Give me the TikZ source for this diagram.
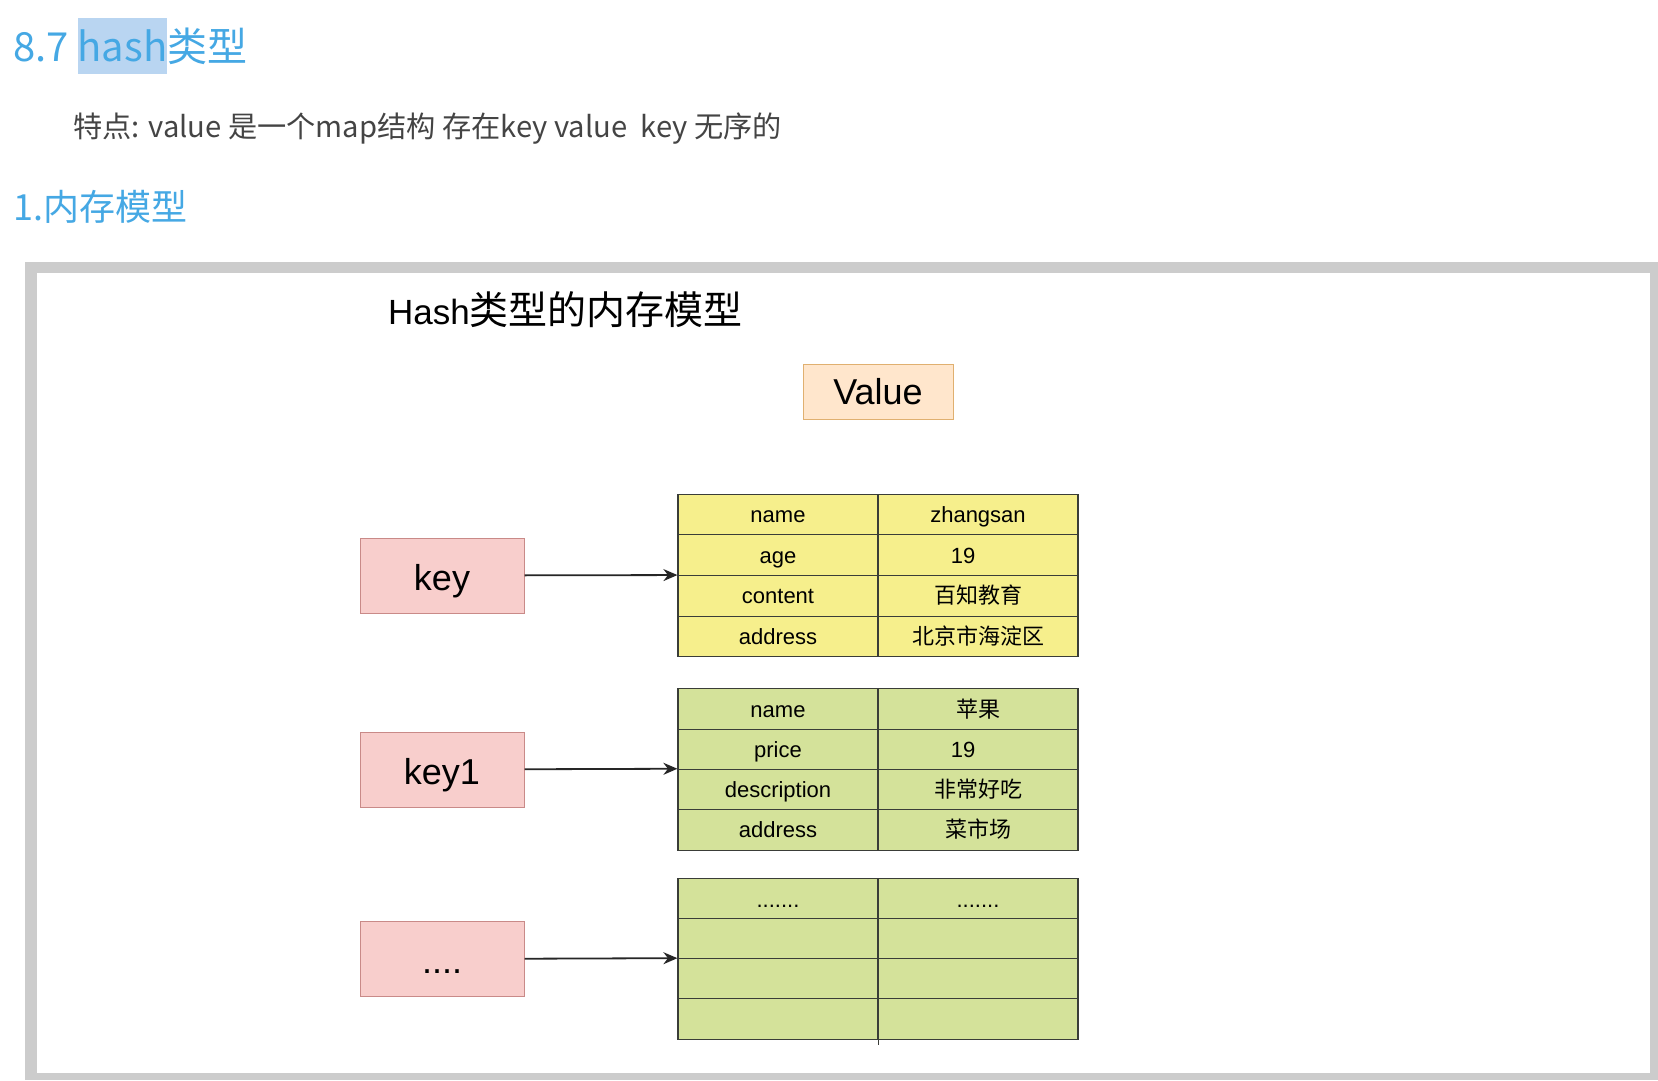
\documentclass[tikz,border=0pt]{standalone}
\usepackage{fontspec}
\setmainfont{Liberation Sans}
\newfontfamily\cjk{Noto Sans CJK SC}
\usetikzlibrary{arrows.meta}
\setlength{\fboxsep}{0pt}
\definecolor{heading}{HTML}{45A8E4}
\definecolor{mark}{HTML}{B9D5F1}
\definecolor{note}{HTML}{444444}
\definecolor{frame}{HTML}{CCCCCC}
\definecolor{keyfill}{HTML}{F8CECC}
\definecolor{keyline}{HTML}{C98A88}
\definecolor{valfill}{HTML}{FFE6CC}
\definecolor{valline}{HTML}{E0B070}
\definecolor{tblyellow}{HTML}{F6EF8C}
\definecolor{tblgreen}{HTML}{D4E29A}
\definecolor{tblline}{HTML}{3A3D38}

\begin{document}
\begin{tikzpicture}[x=1pt, y=-1pt, font=\fontsize{22}{26}\selectfont,
  keybox/.style={draw=keyline, fill=keyfill, line width=1pt, minimum width=164pt, minimum height=75pt, text height=31pt, text depth=2pt, font=\fontsize{36}{40}\selectfont},
  valuebox/.style={draw=valline, fill=valfill, line width=1pt, minimum width=150pt, minimum height=55pt, font=\fontsize{36}{40}\selectfont},
  cell/.style={draw=tblline, line width=1.2pt, minimum width=200pt, minimum height=40.5pt, inner sep=0pt, text height=16pt, text depth=0pt},
  ycell/.style={cell, fill=tblyellow},
  gcell/.style={cell, fill=tblgreen},
  link/.style={-{Stealth[length=14pt, width=12pt]}, line width=1.8pt, draw=black!85}]
  \useasboundingbox (0,0) rectangle (1658,1080);
  \fill[white] (0,0) rectangle (1658,1080);

  % page text above the screenshot
  \node[anchor=base west, inner sep=0pt, text=heading, font=\cjk\fontsize{40}{48}\selectfont] (title) at (13,61) {8.7 \colorbox{mark}{\rule[-13pt]{0pt}{56pt}hash}类型};
  \node[anchor=base west, inner sep=0pt, text=note, font=\cjk\fontsize{29.2}{34}\selectfont] (feature) at (73,137) {特点: value 是一个map结构 存在key value\ \ key 无序的};
  \node[anchor=base west, inner sep=0pt, text=heading, font=\cjk\fontsize{36}{44}\selectfont] (section) at (13,220) {1.内存模型};

  % grey frame of the embedded picture
  \fill[frame] (25,262) rectangle (1658,1080);
  \fill[white] (37,273) rectangle (1650,1073);

  \node[anchor=base west, inner sep=0pt, font=\fontsize{35}{40}\selectfont] (caption) at (388,324) {Hash{\cjk\fontsize{39}{44}\selectfont 类型的内存模型}};
  \node[valuebox] (value) at (878,391.5) {Value};

  % first value table
  \node[ycell] (t1k1) at (778,514.4) {name};
  \node[ycell] (t1v1) at (978,514.4) {zhangsan};
  \node[ycell] (t1k2) at (778,555.1) {age};
  \node[ycell] (t1v2) at (978,555.1) {\hspace*{-30pt}19};
  \node[ycell] (t1k3) at (778,595.9) {content};
  \node[ycell] (t1v3) at (978,595.9) {\cjk 百知教育};
  \node[ycell] (t1k4) at (778,636.6) {address};
  \node[ycell] (t1v4) at (978,636.6) {\cjk 北京市海淀区};

  % second value table
  \node[gcell] (t2k1) at (778,709.1) {name};
  \node[gcell] (t2v1) at (978,709.1) {\cjk 苹果};
  \node[gcell] (t2k2) at (778,749.4) {price};
  \node[gcell] (t2v2) at (978,749.4) {\hspace*{-30pt}19};
  \node[gcell] (t2k3) at (778,789.6) {description};
  \node[gcell] (t2v3) at (978,789.6) {\cjk 非常好吃};
  \node[gcell] (t2k4) at (778,829.9) {address};
  \node[gcell] (t2v4) at (978,829.9) {\cjk 菜市场};

  % third value table
  \node[gcell] (t3k1) at (778,899) {.......};
  \node[gcell] (t3v1) at (978,899) {.......};
  \node[gcell] (t3k2) at (778,939) {};
  \node[gcell] (t3v2) at (978,939) {};
  \node[gcell] (t3k3) at (778,979) {};
  \node[gcell] (t3v3) at (978,979) {};
  \node[gcell] (t3k4) at (778,1019) {};
  \node[gcell] (t3v4) at (978,1019) {};
  \draw[tblline, line width=1.2pt] (t3k4.south east) -- ++(0,5);

  % keys
  \node[keybox] (key) at (442,575.5) {key};
  \node[keybox] (key1) at (442,769.5) {key1};
  \node[keybox] (keyn) at (442,959) {....};

  \draw[link] (key) -- (t1k3.north west);
  \draw[link] (key1) -- (t2k3.north west);
  \draw[link] (keyn) -- (t3k3.north west);
\end{tikzpicture}
\end{document}
